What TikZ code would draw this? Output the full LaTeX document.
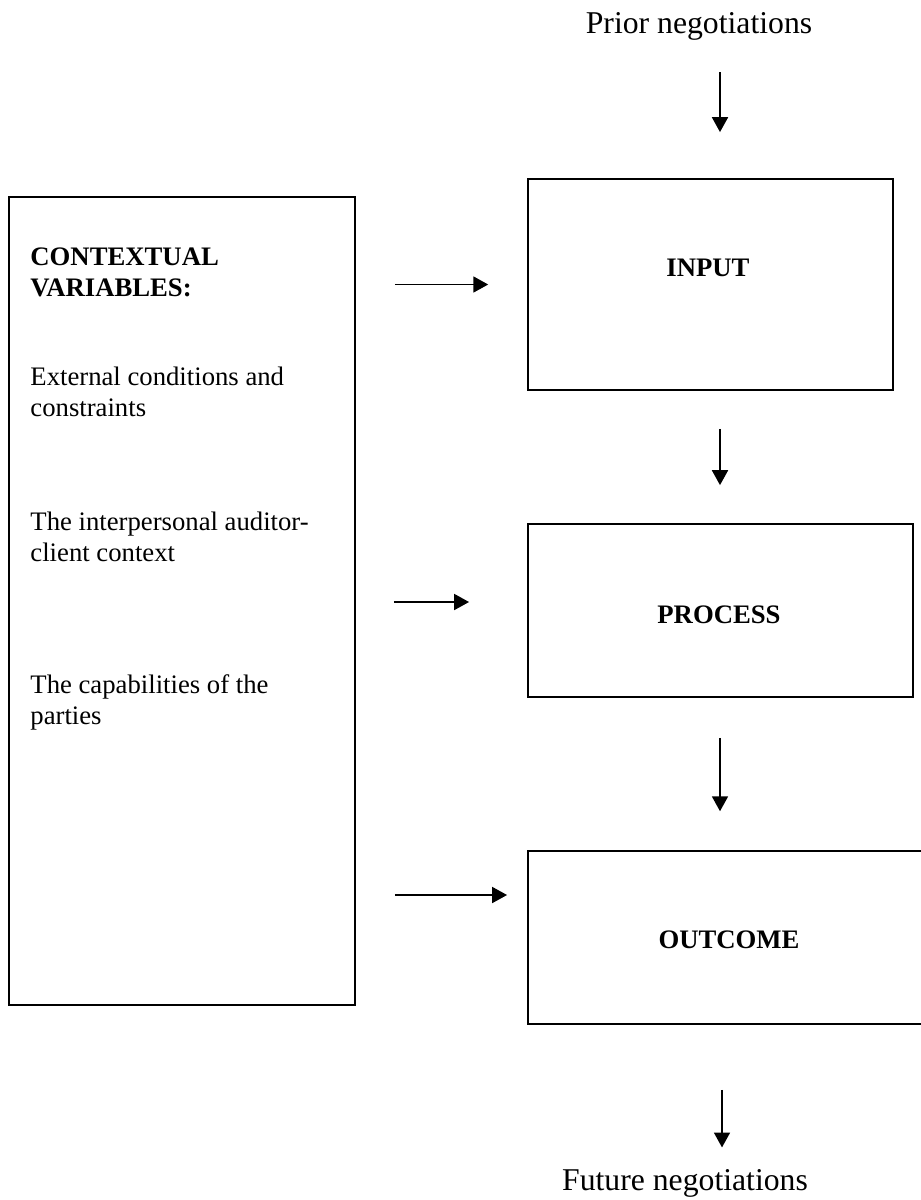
\documentclass[tikz,border=0pt]{standalone}
\usepackage{fontspec}
\setmainfont{Liberation Serif}
\usetikzlibrary{arrows.meta}

\begin{document}
\begin{tikzpicture}[x=0.4494pt, y=-0.4494pt,
  box/.style={draw, line width=0.8pt, inner sep=0pt},
  flow/.style={-{Triangle[length=6.7pt,width=7.2pt]}, line width=0.75pt},
  txt/.style={inner sep=0pt, align=left, anchor=base west,
    font=\fontsize{12pt}{13.8pt}\selectfont},
  head/.style={txt, font=\fontsize{12pt}{13.8pt}\selectfont\bfseries},
  big/.style={inner sep=0pt, anchor=base, font=\fontsize{14.25pt}{16.4pt}\selectfont},
  lbl/.style={inner sep=0pt, font=\fontsize{12pt}{13.8pt}\selectfont\bfseries}]
  \useasboundingbox (0,0) rectangle (921,1200);

  \node[box, minimum width=155.5pt, minimum height=363.1pt] (ctx) at (182,601) {};
  \node[box, minimum width=164pt, minimum height=94.8pt] (input) at (710.5,284.5) {};
  \node[box, minimum width=173pt, minimum height=77.7pt] (process) at (720.5,610.5) {};
  \node[box, minimum width=180.7pt, minimum height=77.7pt] (outcome) at (729,937.5) {};

  \node[lbl] (inputlbl) at (708,268) {INPUT};
  \node[lbl] (processlbl) at (719,615) {PROCESS};
  \node[lbl] (outcomelbl) at (729,940) {OUTCOME};

  % base anchor sits on the last line
  \node[head] (ctxhead) at (30,296) {CONTEXTUAL\\VARIABLES:};
  \node[txt] (external) at (30,416) {External conditions and\\constraints};
  \node[txt] (interpers) at (30,561) {The interpersonal auditor-\\client context};
  \node[txt] (capab) at (30,724) {The capabilities of the\\parties};

  \node[big] (prior) at (699,33) {Prior negotiations};
  \node[big] (future) at (685,1190) {Future negotiations};

  \coordinate (col) at (720,0);
  \coordinate (colb) at (722,0);
  \coordinate (rowb) at (0,602);
  \coordinate (rowc) at (0,895);

  \draw[flow, shorten <=14.4pt, shorten >=20.7pt] (prior.south -| col) -- (input.north -| col);
  \draw[flow, shorten <=17.1pt, shorten >=17.1pt] (input.south -| col) -- (process.north -| col);
  \draw[flow, shorten <=18pt, shorten >=17.5pt] (process.south -| col) -- (outcome.north -| col);
  \draw[flow, shorten <=29.2pt, shorten >=9.5pt] (outcome.south -| colb) -- (future.north -| colb);

  \draw[flow, shorten <=17.5pt, shorten >=17.5pt] (ctx.east |- input.west) -- (input.west);
  \draw[flow, shorten <=17.1pt, shorten >=26.1pt] (ctx.east |- rowb) -- (process.west |- rowb);
  \draw[flow, shorten <=17.5pt, shorten >=9pt] (ctx.east |- rowc) -- (outcome.west |- rowc);
\end{tikzpicture}
\end{document}
